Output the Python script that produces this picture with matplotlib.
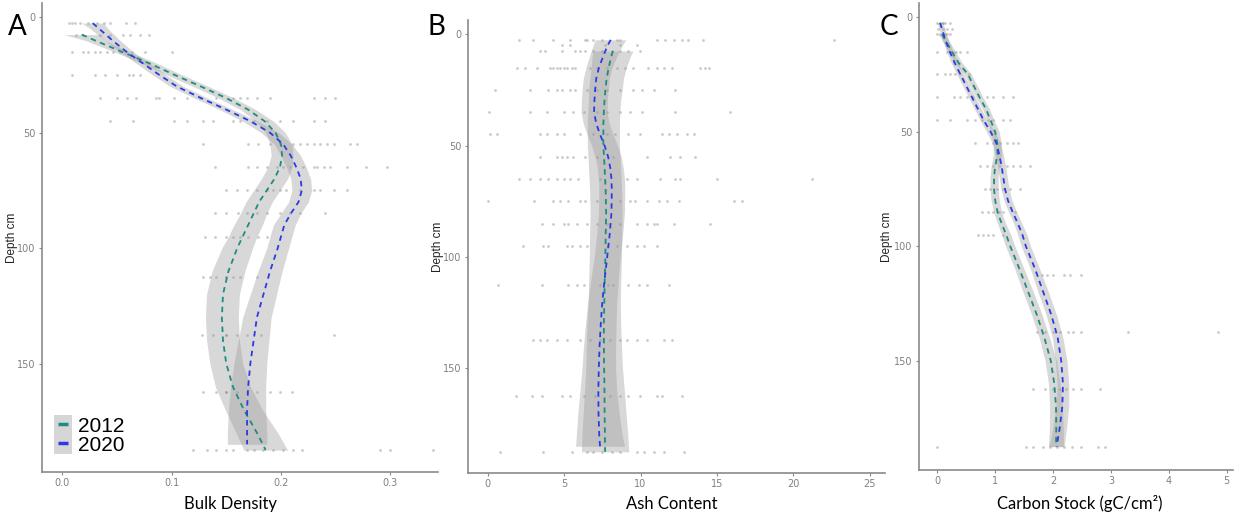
import matplotlib.pyplot as plt
from matplotlib.patches import Patch
from matplotlib.lines import Line2D

# ---- panel A: bulk density ----
bd_depth_2012 = [7.5, 10, 15, 20, 25, 30, 35, 40, 45, 50, 55, 60, 65, 70, 75, 80, 85, 90,
                 95, 100, 110, 120, 130, 140, 150, 160, 170, 180, 187.5]
bd_mean_2012 = [0.018, 0.03, 0.055, 0.08, 0.103, 0.127, 0.15, 0.17, 0.185, 0.195, 0.2, 0.201,
                0.199, 0.194, 0.187, 0.18, 0.175, 0.17, 0.165, 0.16, 0.152, 0.147, 0.146,
                0.147, 0.15, 0.156, 0.166, 0.178, 0.186]
bd_se_2012 = [0.016, 0.009, 0.007, 0.007, 0.007, 0.007, 0.007, 0.007, 0.008, 0.009, 0.01, 0.01,
              0.011, 0.012, 0.012, 0.012, 0.012, 0.013, 0.013, 0.014, 0.015, 0.015, 0.015,
              0.015, 0.015, 0.016, 0.017, 0.019, 0.02]
bd_depth_2020 = [2.5, 5, 10, 15, 20, 25, 30, 35, 40, 45, 50, 55, 60, 65, 70, 75, 80, 85, 90,
                 95, 100, 110, 120, 130, 140, 150, 160, 170, 180, 185]
bd_mean_2020 = [0.028, 0.034, 0.046, 0.059, 0.074, 0.089, 0.105, 0.127, 0.15, 0.172, 0.19,
                0.202, 0.209, 0.214, 0.218, 0.219, 0.216, 0.209, 0.203, 0.2, 0.197, 0.19,
                0.184, 0.178, 0.175, 0.172, 0.17, 0.169, 0.169, 0.169]
bd_se_2020 = [0.01, 0.008, 0.007, 0.006, 0.006, 0.006, 0.006, 0.006, 0.006, 0.007, 0.008,
              0.008, 0.009, 0.009, 0.009, 0.009, 0.009, 0.009, 0.01, 0.01, 0.01, 0.011, 0.012,
              0.013, 0.014, 0.015, 0.016, 0.017, 0.018, 0.018]
bd_points = {
    2.5: [0.006, 0.009, 0.012, 0.016, 0.024, 0.032, 0.038, 0.044, 0.058, 0.067],
    7.5: [0.013, 0.019, 0.035, 0.044, 0.056, 0.062, 0.071, 0.079],
    15: [0.009, 0.019, 0.024, 0.030, 0.035, 0.041, 0.047, 0.053, 0.064, 0.076, 0.100],
    25: [0.009, 0.030, 0.039, 0.050, 0.061, 0.065, 0.071],
    35: [0.035, 0.050, 0.059, 0.068, 0.086, 0.089, 0.102, 0.114, 0.126, 0.141, 0.156, 0.163,
         0.169, 0.178, 0.190, 0.230, 0.240, 0.249],
    45: [0.044, 0.065, 0.102, 0.114, 0.129, 0.138, 0.156, 0.163, 0.175, 0.187, 0.199, 0.211,
         0.230, 0.240],
    55: [0.129, 0.170, 0.179, 0.190, 0.199, 0.211, 0.217, 0.224, 0.230, 0.236, 0.242, 0.248,
         0.263, 0.269],
    65: [0.140, 0.170, 0.178, 0.187, 0.196, 0.202, 0.208, 0.220, 0.230, 0.233, 0.239, 0.245,
         0.260, 0.278, 0.297],
    75: [0.150, 0.160, 0.169, 0.178, 0.187, 0.193, 0.199, 0.205, 0.217, 0.230, 0.236, 0.248,
         0.260],
    85: [0.140, 0.150, 0.161, 0.169, 0.178, 0.187, 0.199, 0.208, 0.217, 0.240],
    95: [0.131, 0.140, 0.150, 0.156, 0.163, 0.170, 0.179, 0.187],
    112.5: [0.129, 0.135, 0.141, 0.150, 0.150, 0.156, 0.163, 0.178],
    137.5: [0.128, 0.138, 0.150, 0.150, 0.160, 0.169, 0.182, 0.248],
    162.5: [0.129, 0.141, 0.150, 0.150, 0.160, 0.169, 0.178, 0.190, 0.199, 0.210],
    187.5: [0.120, 0.132, 0.141, 0.150, 0.156, 0.169, 0.175, 0.184, 0.193, 0.202, 0.211,
            0.219, 0.290, 0.300, 0.339],
}

# ---- panel B: ash content ----
ash_depth_2012 = [7.5, 10, 15, 20, 25, 30, 35, 40, 50, 60, 70, 80, 90, 100, 110, 120, 130,
                  140, 150, 160, 170, 180, 187.5]
ash_mean_2012 = [8.2, 8.08, 7.92, 7.78, 7.7, 7.64, 7.6, 7.57, 7.57, 7.65, 7.72, 7.75, 7.72,
                 7.7, 7.66, 7.63, 7.6, 7.6, 7.62, 7.64, 7.65, 7.67, 7.68]
ash_se_2012 = [1.3, 1.25, 1.15, 1.1, 1.1, 1.05, 1.05, 1.05, 1.05, 1.05, 1.05, 1.05, 1.05,
               1.05, 1.05, 1.05, 1.1, 1.15, 1.2, 1.3, 1.4, 1.5, 1.55]
ash_depth_2020 = [2.5, 5, 10, 15, 20, 25, 30, 35, 40, 45, 50, 55, 60, 65, 70, 80, 90, 100,
                  110, 120, 130, 140, 150, 160, 170, 180, 185]
ash_mean_2020 = [8.05, 7.85, 7.55, 7.28, 7.1, 7.03, 6.98, 6.96, 7.1, 7.35, 7.65, 7.88, 8.02,
                 8.1, 8.12, 8.1, 7.98, 7.82, 7.65, 7.5, 7.4, 7.32, 7.27, 7.24, 7.25, 7.3, 7.35]
ash_se_2020 = [1.0, 0.95, 0.9, 0.85, 0.85, 0.85, 0.85, 0.85, 0.85, 0.85, 0.85, 0.85, 0.85,
               0.85, 0.85, 0.85, 0.85, 0.85, 0.9, 0.95, 1.0, 1.05, 1.1, 1.2, 1.35, 1.5, 1.6]
ash_points = {
    2.5: [2.07, 2.99, 4.3, 5.39, 6.38, 6.49, 6.92, 7.47, 8.45, 8.67, 11.07, 11.62, 12.16,
          12.71, 13.14, 14.12, 22.64],
    5: [4.85, 5.39, 7.69, 8.67, 9.76],
    7.5: [3.43, 3.76, 4.85, 5.72, 6.05, 6.38, 6.92, 7.47, 8.12, 8.67, 9.21, 9.98],
    15: [1.9, 2.45, 3.21, 4.08, 4.3, 4.52, 4.74, 4.96, 5.17, 5.5, 5.72, 6.7, 7.14, 7.79, 8.45,
         9.0, 9.54, 10.52, 11.07, 11.51, 12.05, 13.91, 14.24, 14.45],
    25: [0.48, 2.77, 3.97, 4.52, 4.85, 5.39, 5.72, 6.49, 7.14, 7.79, 8.67, 9.54, 10.09,
         10.85, 12.27],
    35: [0.11, 2.77, 3.86, 4.96, 5.61, 6.27, 7.14, 7.79, 8.67, 9.32, 10.09, 12.27, 15.87],
    45: [0.15, 0.59, 3.43, 3.86, 4.52, 4.96, 6.05, 6.92, 7.79, 8.34, 9.21, 9.98, 11.4, 11.84,
         12.38, 13.03, 13.47],
    55: [3.43, 4.52, 4.85, 5.17, 5.61, 6.38, 7.14, 8.23, 10.41, 11.94, 12.6, 13.58],
    65: [2.07, 2.77, 3.43, 3.97, 4.52, 4.96, 5.39, 5.94, 7.36, 9.1, 9.76, 11.29, 12.27, 12.6,
         15.0, 21.22],
    75: [0.0, 3.06, 4.3, 4.74, 5.28, 6.05, 6.38, 7.14, 8.67, 9.32, 9.65, 10.41, 11.18, 11.73,
         12.49, 16.09, 16.64],
    85: [3.54, 4.3, 4.96, 5.28, 5.83, 6.49, 7.14, 7.79, 8.67, 9.76, 10.41, 10.85, 11.07,
         12.16, 14.56],
    95: [2.34, 3.65, 3.97, 5.17, 5.5, 6.05, 6.49, 7.79, 8.45, 9.1, 9.76, 10.2, 11.07],
    112.5: [0.7, 3.54, 5.28, 5.83, 6.27, 7.36, 7.9, 8.23, 9.21, 9.87, 10.41, 11.84],
    137.5: [2.99, 3.43, 3.86, 4.52, 5.17, 6.05, 6.7, 7.36, 8.01, 8.67, 9.1, 9.76, 10.41,
            11.51, 12.05],
    162.5: [1.86, 2.88, 3.54, 4.85, 5.39, 6.27, 7.03, 8.01, 8.67, 9.21, 9.98, 11.07, 11.4,
            12.71],
    187.5: [0.81, 3.65, 5.5, 6.49, 6.92, 7.47, 8.12, 8.67, 9.76, 10.2, 10.85, 11.51, 12.82],
}

# ---- panel C: carbon stock ----
cs_depth_2012 = [7.5, 10, 15, 20, 25, 30, 35, 40, 45, 50, 55, 60, 65, 70, 75, 80, 85, 90,
                 95, 100, 110, 120, 130, 140, 150, 160, 170, 180, 187.5]
cs_mean_2012 = [0.08, 0.14, 0.25, 0.37, 0.53, 0.63, 0.73, 0.84, 0.92, 1.0, 1.035, 1.04, 1.0,
                0.98, 0.98, 1.0, 1.04, 1.11, 1.19, 1.26, 1.42, 1.57, 1.72, 1.85, 1.96, 2.02,
                2.05, 2.055, 2.05]
cs_se_2012 = [0.06, 0.06, 0.06, 0.06, 0.06, 0.06, 0.06, 0.06, 0.06, 0.07, 0.07, 0.07, 0.07,
              0.07, 0.07, 0.07, 0.07, 0.07, 0.08, 0.08, 0.08, 0.09, 0.09, 0.09, 0.1, 0.1,
              0.11, 0.12, 0.13]
cs_depth_2020 = [2.5, 5, 7.5, 10, 15, 20, 25, 30, 35, 40, 45, 50, 55, 60, 65, 70, 75, 80, 85,
                 90, 95, 100, 110, 120, 130, 140, 150, 160, 170, 180, 187.5]
cs_mean_2020 = [0.047, 0.08, 0.11, 0.14, 0.215, 0.3, 0.4, 0.5, 0.6, 0.7, 0.8, 0.92, 1.02,
                1.07, 1.11, 1.14, 1.17, 1.22, 1.3, 1.39, 1.47, 1.53, 1.69, 1.83, 1.97, 2.08,
                2.14, 2.17, 2.16, 2.11, 2.06]
cs_se_2020 = [0.05, 0.05, 0.05, 0.05, 0.055, 0.06, 0.06, 0.06, 0.06, 0.06, 0.06, 0.07, 0.07,
              0.07, 0.07, 0.07, 0.07, 0.07, 0.07, 0.07, 0.08, 0.08, 0.08, 0.09, 0.09, 0.09,
              0.1, 0.1, 0.11, 0.12, 0.13]
cs_points = {
    2.5: [0.0, 0.05, 0.08, 0.1, 0.13, 0.22],
    5: [0.02, 0.1, 0.16, 0.25],
    7.5: [0.0, 0.05, 0.09, 0.13, 0.17, 0.22],
    15: [0.0, 0.16, 0.22, 0.28, 0.33, 0.39, 0.51],
    25: [0.0, 0.13, 0.22, 0.31, 0.39, 0.54],
    35: [0.0, 0.28, 0.39, 0.51, 0.62, 0.85, 0.97, 1.14, 1.31],
    45: [0.0, 0.22, 0.51, 0.65, 0.77, 0.88, 0.97, 1.14, 1.26],
    55: [0.65, 0.85, 0.97, 1.08, 1.2, 1.31, 1.4],
    65: [0.74, 0.85, 0.97, 1.08, 1.2, 1.31, 1.43, 1.6],
    75: [0.82, 0.91, 1.03, 1.14, 1.26, 1.43],
    85: [0.77, 0.88, 0.97, 1.06, 1.14, 1.34],
    95: [0.71, 0.79, 0.88, 0.97, 1.14],
    112.5: [1.8, 1.89, 2.0, 2.18, 2.29, 2.49],
    137.5: [1.72, 1.86, 2.0, 2.12, 2.26, 2.35, 2.49, 3.3, 4.85],
    162.5: [1.66, 1.86, 2.0, 2.12, 2.23, 2.35, 2.49, 2.81],
    187.5: [0.0, 1.54, 1.66, 1.83, 1.95, 2.06, 2.18, 2.32, 2.49, 2.78, 2.9],
}

years = ["2012", "2020"]
col_2012 = "#1e8c7e"
col_2020 = "#2a3be6"
ribbon = "#999999"
axis_grey = "#8a8a8a"


def panel(ax, points, d12, m12, s12, d20, m20, s20, xlim, xticks, xticklabels):
    for depth, xs in points.items():
        ax.scatter(xs, [depth] * len(xs), s=4, color="#444444", alpha=0.28, lw=0, zorder=1)
    for d, m, s in [(d12, m12, s12), (d20, m20, s20)]:
        lo = [a - b for a, b in zip(m, s)]
        hi = [a + b for a, b in zip(m, s)]
        ax.fill_betweenx(d, lo, hi, color=ribbon, alpha=0.38, lw=0, zorder=2)
    ax.plot(m12, d12, color=col_2012, lw=1.3, ls=(0, (3, 2.5)), zorder=3)
    ax.plot(m20, d20, color=col_2020, lw=1.3, ls=(0, (3, 2.5)), zorder=3)
    ax.set_xlim(*xlim)
    ax.set_ylim(197, -6.2)
    ax.set_xticks(xticks)
    ax.set_xticklabels(xticklabels)
    ax.set_yticks([0, 50, 100, 150])
    for side in ["top", "right"]:
        ax.spines[side].set_visible(False)
    for side in ["left", "bottom"]:
        ax.spines[side].set_color(axis_grey)
        ax.spines[side].set_linewidth(1.2)
    ax.tick_params(colors=axis_grey, labelcolor="#808080", labelsize=7, length=2.5,
                   width=0.8, pad=2)
    ax.set_ylabel("Depth cm", fontsize=8.5, color="#222222", family="Liberation Sans")


W, H = 1241, 523
fig = plt.figure(figsize=(W / 100, H / 100), dpi=100)


def box(l, r, t, b):
    return [l / W, 1 - b / H, (r - l) / W, (b - t) / H]


axA = fig.add_axes(box(42, 438, 3, 472))
panel(axA, bd_points, bd_depth_2012, bd_mean_2012, bd_se_2012,
      bd_depth_2020, bd_mean_2020, bd_se_2020,
      (-0.0183, 0.3434), [0, 0.1, 0.2, 0.3], ["0.0", "0.1", "0.2", "0.3"])
axA.yaxis.set_label_coords(-0.06, 0.5)

axB = fig.add_axes(box(468, 885, 20, 473))
panel(axB, ash_points, ash_depth_2012, ash_mean_2012, ash_se_2012,
      ash_depth_2020, ash_mean_2020, ash_se_2020,
      (-1.29, 26.0), [0, 5, 10, 15, 20, 25], ["0", "5", "10", "15", "20", "25"])
axB.set_ylim(197, -6.4)
axB.yaxis.set_label_coords(-0.058, 0.5)

axC = fig.add_axes(box(919, 1233, 3, 470))
panel(axC, cs_points, cs_depth_2012, cs_mean_2012, cs_se_2012,
      cs_depth_2020, cs_mean_2020, cs_se_2020,
      (-0.316, 5.107), [0, 1, 2, 3, 4, 5], ["0", "1", "2", "3", "4", "5"])
axC.set_ylim(197.7, -6.2)
axC.yaxis.set_label_coords(-0.083, 0.5)

# legend in panel A
handles = [(Patch(facecolor="#d6d6d6", edgecolor="none"),
            Line2D([], [], color=c, marker="_", markersize=7, mew=2.5, ls="none"))
           for c in [col_2012, col_2020]]
axA.legend(handles, years, loc="lower left", bbox_to_anchor=(0.03, 0.036), frameon=False,
           prop={"family": "Liberation Sans", "size": 15}, handlelength=0.87,
           handleheight=1.1, handletextpad=0.3, labelspacing=-0.1, borderpad=0,
           borderaxespad=0)

# panel letters and axis titles
for x, letter in [(8, "A"), (428, "B"), (880, "C")]:
    fig.text(x / W, 1 - 35 / H, letter, fontsize=20, family="Lato", va="baseline")
for x, label in [(230, "Bulk Density"), (672, "Ash Content"), (1080, "Carbon Stock (gC/cm²)")]:
    fig.text(x / W, 1 - 509 / H, label, fontsize=12, family=["Lato", "DejaVu Sans"],
             ha="center", va="baseline")

fig.savefig("out.png", dpi=100)
